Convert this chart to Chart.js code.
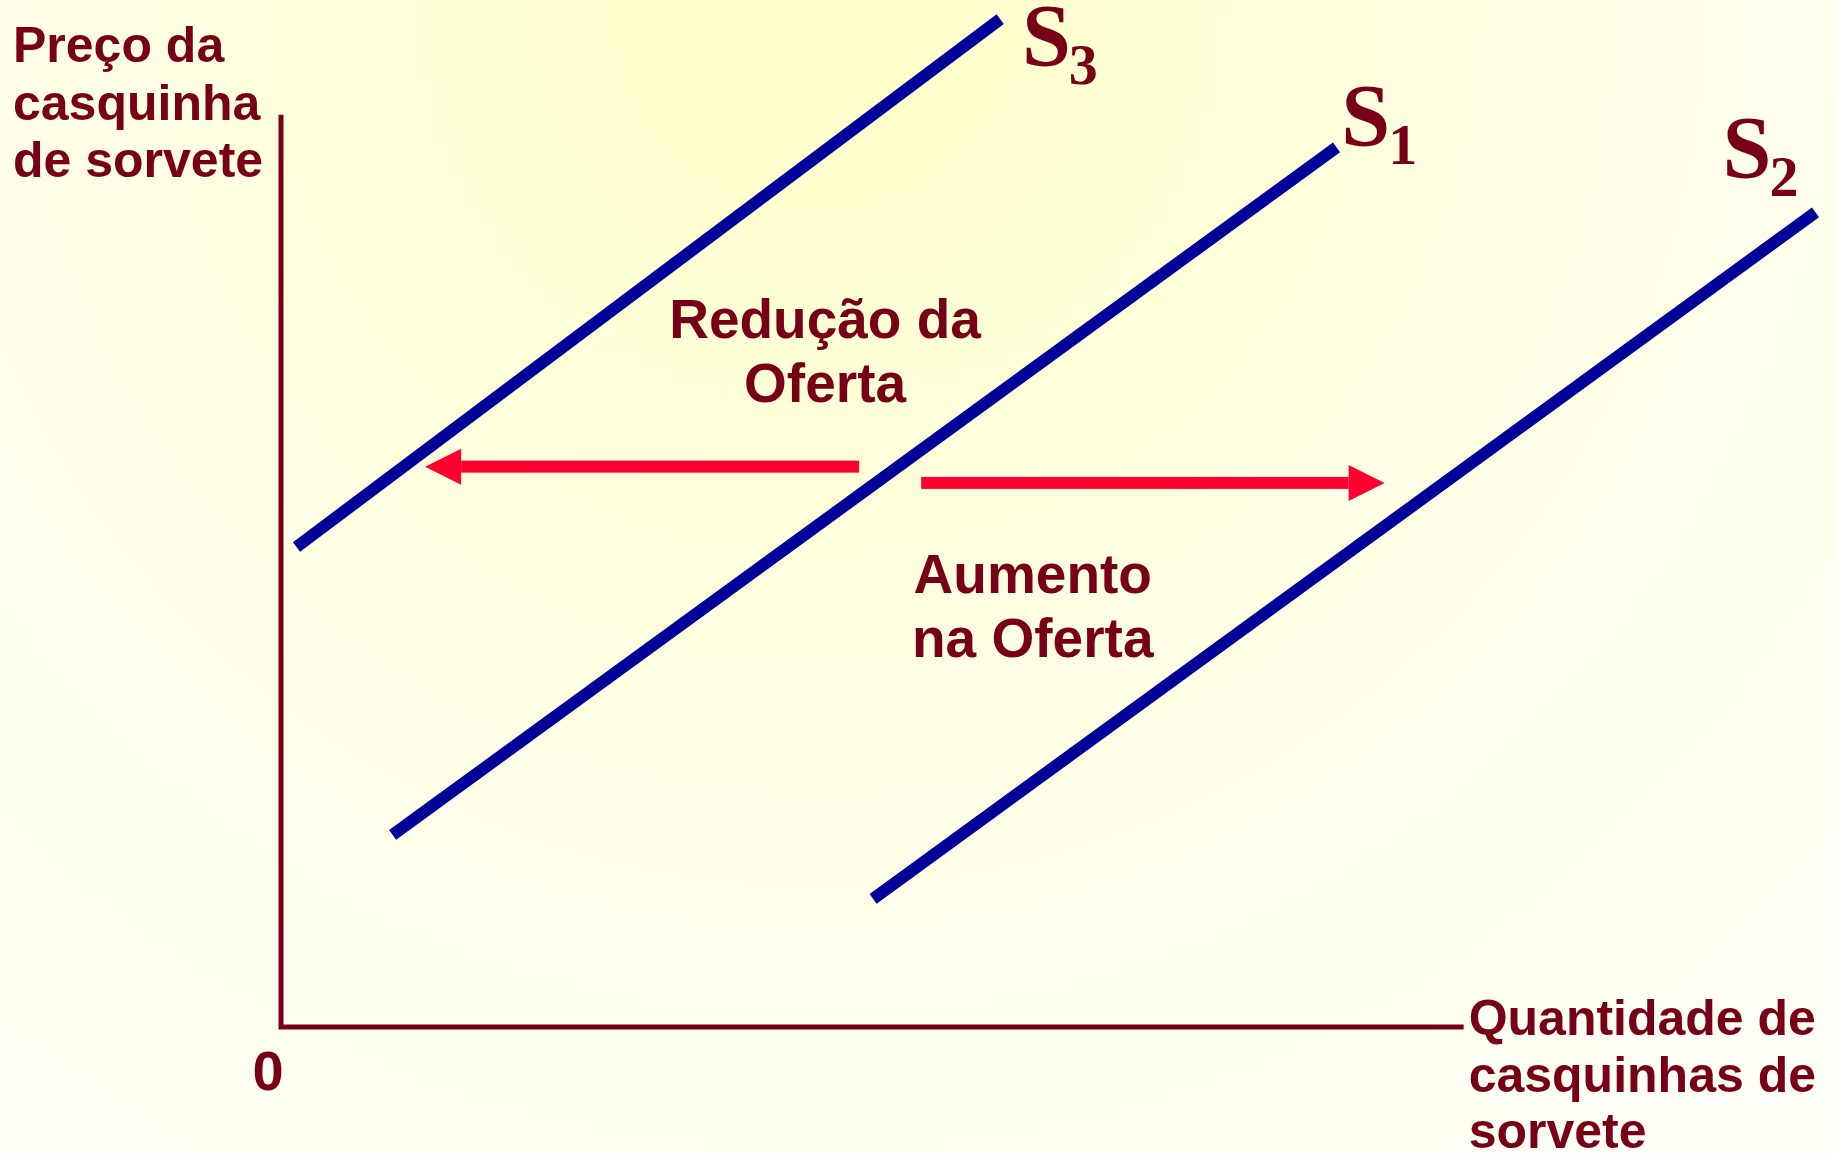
<!DOCTYPE html>
<html>
<head>
<meta charset="utf-8">
<script src="https://cdn.jsdelivr.net/npm/chart.js@4/dist/chart.umd.min.js"></script>
<style>
  html, body { margin: 0; padding: 0; background: #fffff6; }
  #wrap { width: 1838px; height: 1153px; }
</style>
</head>
<body>
<div id="wrap"><canvas id="myChart" width="1838" height="1153"></canvas></div>
<script>
// supply curves: quantity (x) and price (y) at both ends
const s1Q = [7.2, 68.1];
const s1P = [18.9, 86.5];
const s2Q = [38.2, 99.0];
const s2P = [12.6, 80.1];
const s3Q = [1.0, 46.4];
const s3P = [47.2, 99.1];

// axes extent
const axisQ = [0, 0, 76.3];
const axisP = [89.7, 0, 0];

// shift arrows
const arrowP = [55.1, 53.5];
const arrowFromQ = [37.3, 41.3];
const arrowToQ = [9.3, 71.2];

// curve labels
const curveLabels = ['S', 'S', 'S'];
const curveSubs = ['1', '2', '3'];
const curveLabelQ = [68.4, 93.0, 47.8];
const curveLabelP = [86.7, 83.6, 94.6];

// notes
const notes = [['Redução da', 'Oferta'], ['Aumento', 'na Oferta']];
const noteQ = [35.1, 48.5];
const noteP = [67.7, 42.7];

const yTitle = ['Preço da', 'casquinha', 'de sorvete'];
const xTitle = ['Quantidade de', 'casquinhas de', 'sorvete'];
const originLabel = '0';

const maroon = '#770017';
const blue = '#000099';
const red = '#ff0030';

function pts(qs, ps) {
    return qs.map((q, i) => ({ x: q, y: ps[i] }));
}

const backdrop = {
    id: 'backdrop',
    beforeDraw(chart) {
        const ctx = chart.ctx;
        const g = ctx.createRadialGradient(820, 0, 0, 820, 0, 1400);
        g.addColorStop(0, '#ffffc8');
        g.addColorStop(0.5, '#ffffe4');
        g.addColorStop(1, '#fffff7');
        ctx.save();
        ctx.fillStyle = g;
        ctx.fillRect(0, 0, chart.width, chart.height);
        ctx.restore();
    }
};

const annotations = {
    id: 'annotations',
    afterDatasetsDraw(chart) {
        const ctx = chart.ctx;
        const xs = chart.scales.x;
        const ys = chart.scales.y;
        ctx.save();

        // arrows
        ctx.fillStyle = red;
        arrowP.forEach((p, i) => {
            const y = ys.getPixelForValue(p);
            const x0 = xs.getPixelForValue(arrowFromQ[i]);
            const x1 = xs.getPixelForValue(arrowToQ[i]);
            const dir = x1 > x0 ? 1 : -1;
            const headLen = 36, headHalf = 18, shaftHalf = 6;
            const baseX = x1 - dir * headLen;
            ctx.fillRect(Math.min(x0, baseX), y - shaftHalf, Math.abs(baseX - x0), shaftHalf * 2);
            ctx.beginPath();
            ctx.moveTo(x1, y);
            ctx.lineTo(baseX, y - headHalf);
            ctx.lineTo(baseX, y + headHalf);
            ctx.closePath();
            ctx.fill();
        });

        // curve labels
        ctx.fillStyle = maroon;
        ctx.textBaseline = 'alphabetic';
        ctx.textAlign = 'left';
        curveLabels.forEach((t, i) => {
            const x = xs.getPixelForValue(curveLabelQ[i]);
            const y = ys.getPixelForValue(curveLabelP[i]);
            ctx.font = 'bold 88px "Liberation Serif", serif';
            ctx.fillText(t, x, y);
            const w = ctx.measureText(t).width;
            ctx.font = 'bold 58px "Liberation Serif", serif';
            ctx.fillText(curveSubs[i], x + w - 2, y + 19);
        });

        // notes
        ctx.font = 'bold 55px "Liberation Sans", Arial, sans-serif';
        ctx.textAlign = 'center';
        notes.forEach((lines, i) => {
            const x = xs.getPixelForValue(noteQ[i]);
            const y = ys.getPixelForValue(noteP[i]);
            lines.forEach((l, j) => ctx.fillText(l, x, y + j * 64));
        });

        // axis titles
        ctx.font = 'bold 50px "Liberation Sans", Arial, sans-serif';
        ctx.textAlign = 'left';
        yTitle.forEach((l, j) => ctx.fillText(l, 13, 62 + j * 57.5));
        const xt = xs.getPixelForValue(axisQ[2]) + 5;
        const yb = ys.getPixelForValue(0);
        xTitle.forEach((l, j) => ctx.fillText(l, xt, yb + 8 + j * 56.5));

        ctx.font = 'bold 56px "Liberation Sans", Arial, sans-serif';
        ctx.textAlign = 'center';
        ctx.fillText(originLabel, xs.getPixelForValue(0) - 13, yb + 63);
        ctx.restore();
    }
};

const curveStyle = {
    showLine: true,
    borderColor: blue,
    borderWidth: 12,
    borderCapStyle: 'butt',
    pointRadius: 0,
    clip: false
};

new Chart(document.getElementById('myChart').getContext('2d'), {
    type: 'scatter',
    data: {
        datasets: [
            { label: 'eixos', data: pts(axisQ, axisP), showLine: true, borderColor: maroon,
              borderWidth: 5, borderJoinStyle: 'miter', borderCapStyle: 'butt', pointRadius: 0, clip: false },
            Object.assign({ label: 'S1', data: pts(s1Q, s1P) }, curveStyle),
            Object.assign({ label: 'S2', data: pts(s2Q, s2P) }, curveStyle),
            Object.assign({ label: 'S3', data: pts(s3Q, s3P) }, curveStyle)
        ]
    },
    options: {
        responsive: false,
        animation: false,
        layout: { padding: { left: 281, right: 7, top: 10, bottom: 126 } },
        plugins: { legend: { display: false }, tooltip: { enabled: false } },
        scales: {
            x: { type: 'linear', min: 0, max: 100, display: false },
            y: { type: 'linear', min: 0, max: 100, display: false }
        }
    },
    plugins: [backdrop, annotations]
});
</script>
</body>
</html>
